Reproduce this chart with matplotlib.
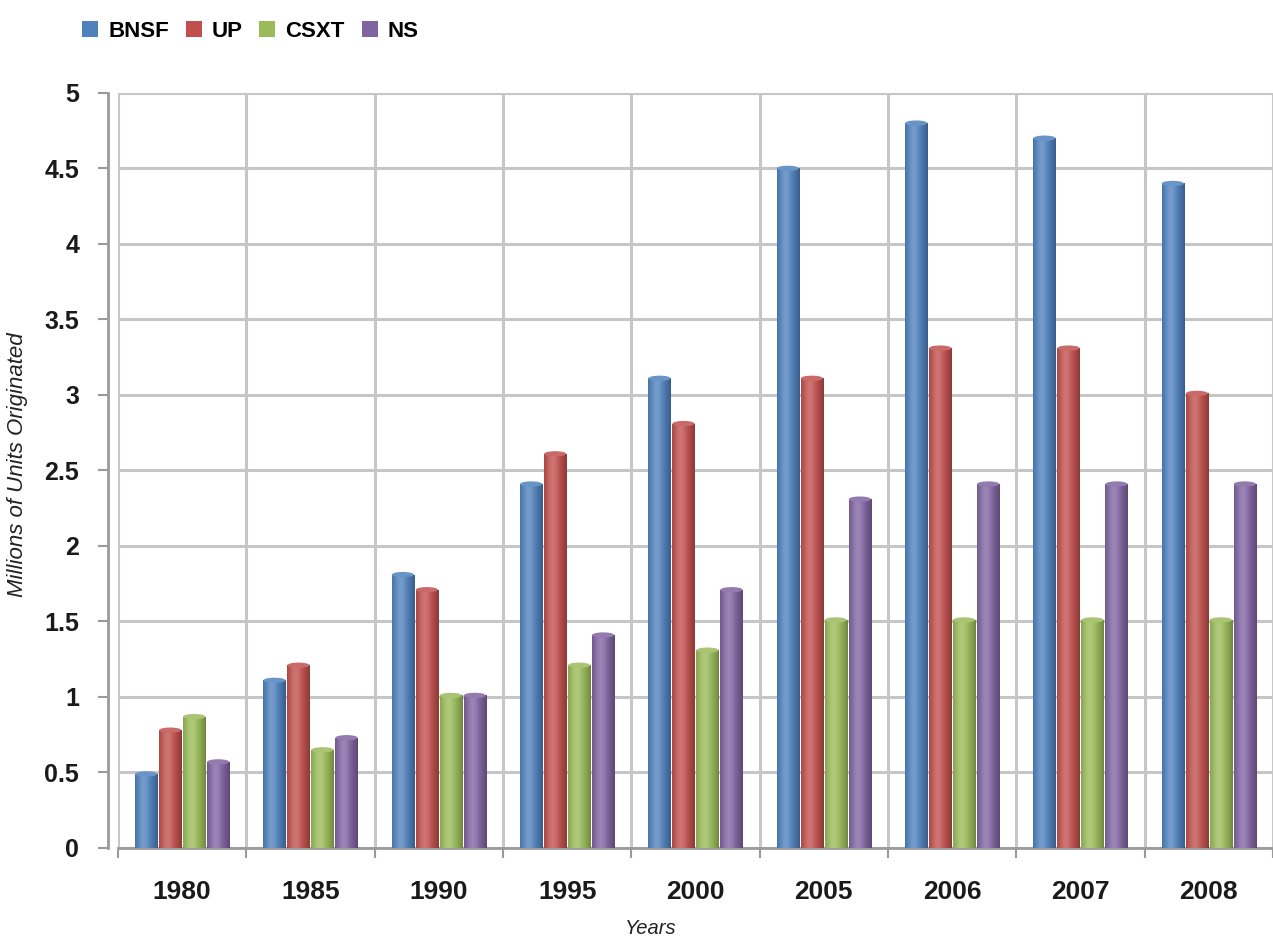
import numpy as np
import matplotlib
matplotlib.use("Agg")
from matplotlib import pyplot as plt
from matplotlib.colors import to_rgb
from matplotlib.patches import Patch, Ellipse

years = ["1980", "1985", "1990", "1995", "2000", "2005", "2006", "2007", "2008"]
bnsf = [0.49, 1.11, 1.81, 2.41, 3.11, 4.50, 4.80, 4.70, 4.40]
up = [0.78, 1.21, 1.71, 2.61, 2.81, 3.11, 3.31, 3.31, 3.01]
csxt = [0.87, 0.65, 1.01, 1.21, 1.31, 1.51, 1.51, 1.51, 1.51]
ns = [0.57, 0.73, 1.01, 1.41, 1.71, 2.31, 2.41, 2.41, 2.41]
series_names = ["BNSF", "UP", "CSXT", "NS"]
series_colors = ["#4F81BD", "#C0504D", "#9BBB59", "#8064A2"]
ytick_vals = [0, 0.5, 1, 1.5, 2, 2.5, 3, 3.5, 4, 4.5, 5]
ytick_labels = ["0", "0.5", "1", "1.5", "2", "2.5", "3", "3.5", "4", "4.5", "5"]

plt.rcParams['font.family'] = ['Liberation Sans', 'DejaVu Sans']

fig = plt.figure(figsize=(12.73, 9.38), dpi=100)
ax = fig.add_axes([0.0927, 0.096, 0.9073, 0.805])

x = np.arange(len(years))
step = 0.187
width = 0.172


def cylinder_image(color, n=64):
    # shade across the bar so it looks a bit like excel's cylinders
    base = np.array(to_rgb(color))
    t = np.linspace(0, 1, n)
    light = 0.35 * np.exp(-((t - 0.38) / 0.25) ** 2)
    dark = 0.28 * np.clip(np.abs(t - 0.4) / 0.6, 0, 1) ** 2
    cols = base[None, :] * (1 - dark[:, None]) + (1 - base[None, :]) * light[:, None] * 0.6
    return np.clip(cols, 0, 1)[None, :, :]


def lighten(color, f):
    c = np.array(to_rgb(color))
    return tuple(c + (1 - c) * f)


# spines first, moving them resets the tick setup
for s in ['top', 'right']:
    ax.spines[s].set_visible(False)
ax.spines['left'].set_position(('outward', 7))
ax.spines['left'].set_color('#9a9a9a')
ax.spines['left'].set_linewidth(2)
ax.spines['bottom'].set_color('#9a9a9a')
ax.spines['bottom'].set_linewidth(2)

all_series = [bnsf, up, csxt, ns]
for i, (vals, col) in enumerate(zip(all_series, series_colors)):
    pos = x + (i - 1.5) * step
    bars = ax.bar(pos, vals, width=width, color=col, zorder=3, linewidth=0)
    img = cylinder_image(col)
    for b in bars:
        x0, y0 = b.get_x(), b.get_y()
        im = ax.imshow(img, extent=(x0, x0 + b.get_width(), y0, y0 + b.get_height()),
                       aspect='auto', zorder=3.5, interpolation='bilinear')
        im.set_clip_path(b)
        # top of the cylinder
        cap = Ellipse((x0 + b.get_width() / 2, y0 + b.get_height()), b.get_width(), 0.035,
                      facecolor=lighten(col, 0.15), edgecolor='none', zorder=4)
        ax.add_patch(cap)

ax.set_xlim(-0.5, len(years) - 0.5)
ax.set_ylim(0, 5)
ax.set_yticks(ytick_vals)
ax.set_yticklabels(ytick_labels, fontweight='bold', fontsize=18, color='#1a1a1a')

# category labels in the middle, ticks + grid on the boundaries
ax.set_xticks(x)
ax.set_xticklabels(years, fontweight='bold', fontsize=19, color='#1a1a1a')
ax.set_xticks(np.arange(-0.5, len(years), 1), minor=True)
ax.tick_params(axis='x', which='major', length=0, pad=23)
ax.tick_params(axis='x', which='minor', length=7, width=1.5, color='#9a9a9a', direction='out')
ax.tick_params(axis='y', length=7, width=1.5, color='#9a9a9a', pad=14)

ax.grid(True, which='minor', axis='x', color='#c6c6c6', linewidth=2.2, zorder=0)
ax.grid(True, which='major', axis='y', color='#c6c6c6', linewidth=2.2, zorder=0)
ax.set_axisbelow(True)

fig.text(18 / 1273, 0.505, "Millions of Units Originated", fontsize=16, style='italic',
         color='#222222', rotation=90, ha='center', va='center')
fig.text(0.511, 0.0, "Years", fontsize=14.5, style='italic', color='#222222',
         ha='center', va='bottom')

handles = [Patch(facecolor=c, edgecolor='none') for c in series_colors]
leg = fig.legend(handles, series_names, loc='upper left', bbox_to_anchor=(0.049, 0.999),
                 ncol=4, frameon=False, handlelength=0.72, handleheight=0.72,
                 handletextpad=0.45, columnspacing=0.75,
                 prop={'weight': 'bold', 'size': 16})

fig.savefig("out.png", dpi=100, facecolor='white')
